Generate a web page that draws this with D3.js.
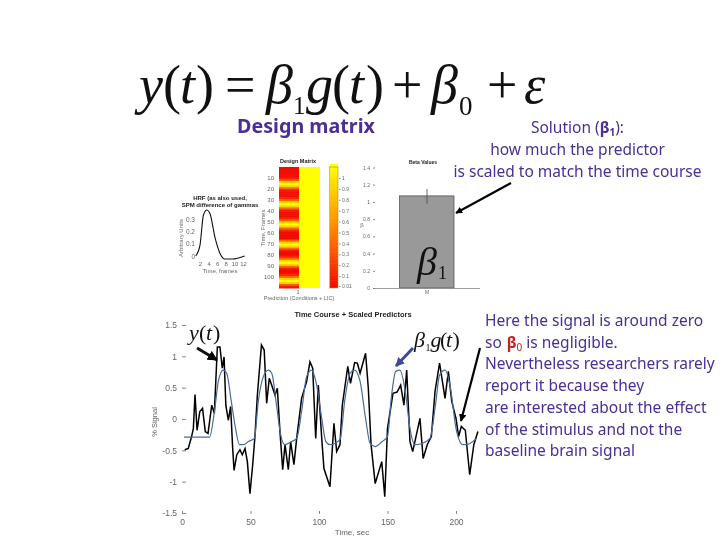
<!DOCTYPE html>
<html>
  <head>
    <title>Design matrix and scaled predictor</title>
    <meta charset="UTF-8">
    <script src="https://d3js.org/d3.v7.min.js"></script>
    <style>
      html, body { margin: 0; background: #fff; }
      svg { display: block; }
      .purple { fill: #4b2e96; font-family: "Noto Sans", sans-serif; }
      .plot text { font-family: "Liberation Sans", sans-serif; fill: #666; }
      .math { font-family: "Liberation Serif", serif; fill: #111; }
    </style>
  </head>
  <body>
    <svg id="chart" width="720" height="540"></svg>
    <script>
      // HRF panel
      const hrfTime = [1, 2, 2.8, 3.6, 4.3, 5.5, 6.6, 7.8, 9.6, 12.4];
      const hrfValue = [0, 0.09, 0.336, 0.377, 0.35, 0.15, 0.025, -0.025, -0.025, 0];
      const hrfXTicks = [2, 4, 6, 8, 10, 12];
      const hrfYTicks = [0, 0.1, 0.2, 0.3];

      // design matrix, first column read top to bottom, second column is constant
      const predictor = [0, 0, 0, 0, 0, 0.05, 0.3, 0.8, 1, 0.8, 0.35, 0.05, 0, 0, 0, 0.1, 0.35, 0.8, 1, 0.8, 0.35, 0.05, 0, 0, 0, 0.1, 0.35, 0.8, 1, 0.8, 0.35, 0.1, 0, 0, 0, 0, 0.35, 0.8, 1, 0.8, 0.35, 0.05, 0, 0, 0.1, 0.35, 0.8, 1, 0.8, 0.35, 0.05, 0, 0, 0.1, 0.35, 0.8, 1, 0.8, 0.3, 0.05];
      const constantColumn = 1;
      const frameTicks = [10, 20, 30, 40, 50, 60, 70, 80, 90, 100];
      const barTicks = [1, 0.9, 0.8, 0.7, 0.6, 0.5, 0.4, 0.3, 0.2, 0.1, 0.01];

      // beta panel
      const betaValue = 1.07;
      const betaTop = 1.15;
      const betaTicks = [0, 0.2, 0.4, 0.6, 0.8, 1, 1.2, 1.4];

      // time course
      const signalTime = [2, 4.6, 7, 8.3, 9.5, 11, 13, 15, 17, 19, 21.7, 23.6, 25.8, 27.7, 29.4, 30.7, 32, 33.8, 35.5, 37, 38, 40, 42.3, 44, 46, 47.7, 49.6, 51.6, 53.3, 55, 58, 60, 61.8, 63.7, 65.5, 67.9, 69.6, 71.5, 73.5, 75.2, 77.6, 79.3, 81.7, 83.7, 87.3, 91, 93.4, 95.4, 97.6, 99.5, 102, 103.6, 108, 110.9, 112.9, 115.3, 117, 121, 123, 126, 128, 130, 134, 136, 138, 141, 145.8, 148, 150, 154, 157, 159.6, 162, 164, 166.4, 168.4, 170.8, 173.7, 176, 179, 182, 184.7, 188, 192, 194.4, 196.9, 200, 201.9, 203.9, 206.8, 210, 213, 216];
      const signalValue = [-0.49, -0.47, -0.28, -0.15, 0.39, -0.18, 0.12, 0.17, -0.2, -0.23, 0.22, 0.09, 1.15, 1.15, 0.81, 0.99, 0.22, -0.02, 0.2, -0.47, -0.82, -0.57, -0.49, -0.57, -0.47, -0.68, -1.19, -0.73, -0.26, 0.38, 1.18, 1.1, 0.25, 0.65, 0.54, 0.38, 0.49, -0.2, -0.81, -0.41, -0.81, -0.36, -0.73, -0.31, 0.33, 0.6, 0.91, 0.81, -0.31, 0.54, -0.31, -0.79, -1.08, -0.07, -0.52, -0.41, 0.22, 0.84, 0.57, 0.9, 0.89, 0.73, 1.05, 0.49, -0.41, -1.03, -0.68, -1.24, -0.15, 0.41, 0.43, 0.54, 0.22, 0.78, -0.36, -0.52, -0.28, 0.01, -0.63, -0.41, -0.28, 0.44, 0.89, 0.33, 0.76, 0.28, 0.01, -0.28, -0.12, -0.18, -0.89, -0.41, -0.2];
      const fitTime = [1.5, 20, 24, 26.5, 30, 32.6, 36, 38.7, 42, 45, 48.4, 52.8, 55.7, 59.4, 63, 65.5, 69, 72, 75, 80, 83.7, 87.3, 91, 94.6, 98.3, 102, 105, 108, 115.3, 119, 122.7, 126, 130, 134, 137.3, 141, 146, 150, 153, 156, 159, 163, 166.4, 170, 175, 181, 185, 188, 192, 196, 200, 205, 209, 215];
      const fitValue = [-0.29, -0.29, 0.17, 0.6, 0.78, 0.73, 0.28, -0.1, -0.41, -0.41, -0.36, -0.31, 0.28, 0.68, 0.78, 0.73, 0.22, -0.25, -0.41, -0.36, -0.31, 0.12, 0.68, 0.78, 0.54, 0.01, -0.36, -0.41, -0.33, 0.33, 0.73, 0.78, 0.6, 0.01, -0.39, -0.44, -0.36, -0.28, 0.38, 0.76, 0.78, 0.44, -0.15, -0.41, -0.39, -0.31, 0.22, 0.7, 0.78, 0.49, -0.15, -0.41, -0.4, -0.31];
      const timeXTicks = [0, 50, 100, 150, 200];
      const timeYTicks = [1.5, 1, 0.5, 0, -0.5, -1, -1.5];

      const noteLines = ["Here the signal is around zero", "so", "Nevertheless researchers rarely", "report it because they", "are interested about the effect", "of the stimulus and not the", "baseline brain signal"];

      const svg = d3.select("#chart");

      const defs = svg.append("defs");
      defs.append("filter").attr("id", "soft")
        .attr("x", "-5%").attr("y", "-5%").attr("width", "110%").attr("height", "110%")
        .append("feGaussianBlur").attr("stdDeviation", 0.5);
      defs.append("marker").attr("id", "headBlack")
        .attr("viewBox", "0 0 10 10").attr("refX", 9).attr("refY", 5)
        .attr("markerWidth", 3.4).attr("markerHeight", 3.4).attr("orient", "auto")
        .append("path").attr("d", "M0,0L10,5L0,10Z").attr("fill", "#000");
      defs.append("marker").attr("id", "headBlue")
        .attr("viewBox", "0 0 10 10").attr("refX", 9).attr("refY", 5)
        .attr("markerWidth", 3).attr("markerHeight", 3).attr("orient", "auto")
        .append("path").attr("d", "M0,0L10,5L0,10Z").attr("fill", "#3d4a9c");

      const plot = svg.append("g").attr("class", "plot").attr("filter", "url(#soft)");

      function drawAxis(axis, transform, size) {
        const g = plot.append("g").attr("transform", transform)
          .call(axis.tickFormat(d => String(d)));
        g.select(".domain").remove();
        g.selectAll("line").attr("stroke", "#888");
        g.selectAll("text").style("font-size", size + "px");
        return g;
      }

      function label(text, x, y, size, weight, rotate) {
        plot.append("text")
          .attr("transform", `translate(${x},${y})` + (rotate ? " rotate(-90)" : ""))
          .attr("text-anchor", "middle")
          .style("font-size", size + "px")
          .style("font-weight", weight || "normal")
          .style("fill", weight ? "#222" : "#666")
          .text(text);
      }

      // HRF
      const hrfX = d3.scaleLinear().domain([0, 12.4]).range([191.4, 244.7]);
      const hrfY = d3.scaleLinear().domain([0, 0.3]).range([256, 219.4]);
      drawAxis(d3.axisBottom(hrfX).tickValues(hrfXTicks).tickSize(0).tickPadding(2), "translate(0,260)", 6);
      drawAxis(d3.axisLeft(hrfY).tickValues(hrfYTicks).tickSize(0).tickPadding(1), "translate(196,0)", 6.5);
      plot.append("path")
        .attr("d", d3.line().x((d, i) => hrfX(hrfTime[i])).y(d => hrfY(d)).curve(d3.curveMonotoneX)(hrfValue))
        .attr("fill", "none").attr("stroke", "#111").attr("stroke-width", 1.1);
      label("HRF (as also used,", 220, 200, 6, "bold");
      label("SPM difference of gammas", 220, 206.5, 6, "bold");
      label("Arbitrary Units", 183, 238, 6, null, true);
      label("Time, frames", 220, 272.5, 6);

      // design matrix
      const heat = d3.scaleLinear().domain([0, 0.5, 1]).range(["#f01000", "#ff8c00", "#ffff00"]);
      const rowY = d3.scaleBand().domain(d3.range(predictor.length)).range([167, 288]);
      const frameY = d3.scaleLinear().domain([0, 110]).range([167, 288]);
      plot.append("g").selectAll("rect").data(predictor).enter().append("rect")
        .attr("x", 279).attr("width", 20.5)
        .attr("y", (d, i) => rowY(i)).attr("height", rowY.bandwidth() + 0.5)
        .attr("fill", d => heat(d));
      plot.append("rect").attr("x", 299).attr("y", 167).attr("width", 21).attr("height", 121)
        .attr("fill", heat(constantColumn));
      drawAxis(d3.axisLeft(frameY).tickValues(frameTicks).tickSize(0).tickPadding(4), "translate(278,0)", 6);
      label("Design Matrix", 298, 163, 5.5, "bold");
      label("Time, Frames", 265, 228, 6, null, true);
      label("1", 298, 294, 5.5);
      label("Prediction (Conditions + LIC)", 299, 300, 5.5);

      // colour bar
      const barY = d3.scaleLinear().domain([0.01, 1]).range([286, 178]);
      const barRows = d3.range(0, 1.01, 0.02);
      plot.append("g").selectAll("rect").data(barRows).enter().append("rect")
        .attr("x", 330).attr("width", 8)
        .attr("y", d => 288 - d * 121 - 3).attr("height", 3)
        .attr("fill", d => heat(d));
      plot.append("rect").attr("x", 329.5).attr("y", 167).attr("width", 8.5).attr("height", 121)
        .attr("fill", "none").attr("stroke", "#a09040").attr("stroke-width", 0.6);
      drawAxis(d3.axisRight(barY).tickValues(barTicks).tickSize(1.5).tickPadding(1.5), "translate(339,0)", 5);

      // beta bar
      const betaY = d3.scaleLinear().domain([0, 1.4]).range([288, 167.5]);
      plot.append("rect")
        .attr("x", 399.5).attr("width", 54.5)
        .attr("y", betaY(betaValue)).attr("height", betaY(0) - betaY(betaValue))
        .attr("fill", "#999").attr("stroke", "#555").attr("stroke-width", 0.8);
      plot.append("line").attr("x1", 427).attr("x2", 427)
        .attr("y1", betaY(betaTop)).attr("y2", betaY(0.98))
        .attr("stroke", "#444").attr("stroke-width", 0.8);
      plot.append("line").attr("x1", 373).attr("x2", 480).attr("y1", 288.5).attr("y2", 288.5)
        .attr("stroke", "#888").attr("stroke-width", 0.8);
      drawAxis(d3.axisLeft(betaY).tickValues(betaTicks).tickSize(-2).tickPadding(3), "translate(373,0)", 5);
      label("Beta Values", 423, 164, 5, "bold");
      label("β", 362, 227, 6);
      label("M", 427, 294, 5);

      // time course
      const timeX = d3.scaleLinear().domain([0, 200]).range([182, 456]);
      const timeY = d3.scaleLinear().domain([-1.5, 1.5]).range([513, 325]);
      drawAxis(d3.axisLeft(timeY).tickValues(timeYTicks).tickSize(-4).tickPadding(5), "translate(182,0)", 8.5);
      drawAxis(d3.axisBottom(timeX).tickValues(timeXTicks).tickSize(-3).tickPadding(5), "translate(0,514)", 8.5);
      plot.append("path")
        .attr("d", d3.line().x((d, i) => timeX(signalTime[i])).y(d => timeY(d))(signalValue))
        .attr("fill", "none").attr("stroke", "#000").attr("stroke-width", 1.5);
      plot.append("path")
        .attr("d", d3.line().x((d, i) => timeX(fitTime[i])).y(d => timeY(d)).curve(d3.curveMonotoneX)(fitValue))
        .attr("fill", "none").attr("stroke", "#4a6b9c").attr("stroke-width", 1.2);
      label("Time Course + Scaled Predictors", 353, 317, 7.5, "bold");
      label("Time, sec", 352, 535, 8);
      label("% Signal", 157, 422, 7.5, null, true);

      // equation, placed piece by piece
      function math(text, x, y, size, italic) {
        svg.append("text").attr("class", "math")
          .attr("x", x).attr("y", y)
          .style("font-size", size + "px")
          .style("font-style", italic ? "italic" : "normal")
          .text(text);
      }
      math("y", 139, 103, 54, true);
      math("(", 163, 103, 54);
      math("t", 180, 103, 54, true);
      math(")", 196, 103, 54);
      math("=", 225, 103, 54);
      math("β", 266, 103, 54, true);
      math("1", 293, 114, 25);
      math("g", 306, 103, 54, true);
      math("(", 332, 103, 54);
      math("t", 349, 103, 54, true);
      math(")", 366, 103, 54);
      math("+", 392, 103, 54);
      math("β", 431, 103, 54, true);
      math("0", 459, 115, 27);
      math("+", 487, 103, 54);
      math("ε", 524, 103, 54, true);

      // symbols on the plots
      math("y", 189, 340, 22, true);
      math("(", 199, 340, 22);
      math("t", 206, 340, 22, true);
      math(")", 213, 340, 22);
      math("β", 414, 347, 22, true);
      math("1", 425.5, 351, 10);
      math("g", 430.5, 347, 22, true);
      math("(", 440, 347, 22);
      math("t", 446, 347, 22, true);
      math(")", 452.5, 347, 22);
      math("β", 417, 275, 40, true);
      math("1", 438, 279, 18);

      // arrows
      function arrow(x1, y1, x2, y2, width, colour, head) {
        svg.append("line")
          .attr("x1", x1).attr("y1", y1).attr("x2", x2).attr("y2", y2)
          .attr("stroke", colour).attr("stroke-width", width)
          .attr("marker-end", `url(#${head})`);
      }
      arrow(511, 183, 456, 213, 2, "#000", "headBlack");
      arrow(197, 348, 217, 360, 3, "#111", "headBlack");
      arrow(413, 348, 396, 366, 3, "#3d4a9c", "headBlue");
      arrow(480, 348, 461, 421, 2.2, "#000", "headBlack");

      // purple text
      svg.append("text").attr("class", "purple")
        .attr("x", 306).attr("y", 133).attr("text-anchor", "middle")
        .style("font-size", "19.7px").style("font-weight", "bold")
        .text("Design matrix");

      const solution = svg.append("text").attr("class", "purple")
        .attr("x", 577.5).attr("y", 133).attr("text-anchor", "middle")
        .style("font-size", "15.5px");
      solution.append("tspan").text("Solution (");
      solution.append("tspan").style("font-weight", "bold").text("β");
      solution.append("tspan").attr("dy", 3).style("font-size", "10px").style("font-weight", "bold").text("1");
      solution.append("tspan").attr("dy", -3).text("):");
      svg.append("text").attr("class", "purple")
        .attr("x", 577.5).attr("y", 155).attr("text-anchor", "middle")
        .style("font-size", "15.5px").text("how much the predictor");
      svg.append("text").attr("class", "purple")
        .attr("x", 577.5).attr("y", 177).attr("text-anchor", "middle")
        .style("font-size", "15.5px").text("is scaled to match the time course");

      const noteY = d3.scaleBand().domain(d3.range(noteLines.length)).range([315, 467]);
      noteLines.forEach((line, i) => {
        const t = svg.append("text").attr("class", "purple")
          .attr("x", 485).attr("y", noteY(i) + 11)
          .style("font-size", "15.5px")
          .text(line);
        if (i === 1) {
          t.append("tspan").attr("dx", 5).style("fill", "#c8201f").style("font-weight", "bold").text("β");
          t.append("tspan").attr("dy", 3).style("fill", "#c8201f").style("font-size", "10px").text("0");
          t.append("tspan").attr("dy", -3).attr("dx", 4).text("is negligible.");
        }
      });
    </script>
  </body>
</html>
